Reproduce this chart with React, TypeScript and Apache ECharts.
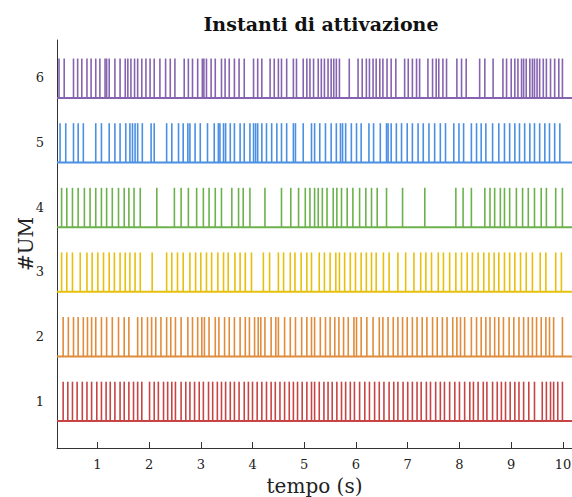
import React, { useEffect, useRef } from "react";
import * as echarts from "echarts";

const unitLabels = ["1", "2", "3", "4", "5", "6"];
const xTicks = [1, 2, 3, 4, 5, 6, 7, 8, 9, 10];
const colors = ["#c84444", "#e08c3a", "#e6c00c", "#6cb24c", "#4a8fe2", "#8663b0"];

const unit1 = [0.34, 0.43, 0.52, 0.61, 0.71, 0.80, 0.89, 0.99, 1.08, 1.17, 1.25, 1.34, 1.44, 1.52, 1.61, 1.70, 1.78, 1.86,
  2.01, 2.10, 2.18, 2.28, 2.36, 2.44, 2.51, 2.62, 2.71, 2.79, 2.88, 2.97, 3.05, 3.15, 3.23, 3.32, 3.40, 3.48, 3.57, 3.65,
  3.74, 3.84, 3.92, 4.00, 4.09, 4.18, 4.27, 4.36, 4.44, 4.53, 4.62, 4.71, 4.79, 4.87, 4.96, 5.05, 5.14,
  5.20, 5.29, 5.38, 5.46, 5.54, 5.63, 5.72, 5.80, 5.89, 5.97, 6.07, 6.17, 6.26, 6.36, 6.45, 6.54, 6.64, 6.73, 6.81, 6.91,
  7.00, 7.09, 7.18, 7.26, 7.36, 7.44, 7.54, 7.63, 7.71, 7.81, 7.91, 8.00, 8.10, 8.20, 8.27, 8.36, 8.46, 8.53, 8.64, 8.73,
  8.81, 8.89, 8.98, 9.07, 9.15, 9.24, 9.34, 9.45, 9.60, 9.68, 9.76, 9.82, 9.90, 9.99];

const unit2 = [0.34, 0.44, 0.54, 0.63, 0.73, 0.81, 0.89, 0.97, 1.08, 1.18, 1.29, 1.41, 1.52, 1.61, 1.78, 1.86, 1.97, 2.05,
  2.13, 2.23, 2.34, 2.42, 2.51, 2.62, 2.75, 2.84, 2.94, 3.02, 3.07, 3.16, 3.28, 3.35, 3.46, 3.55, 3.65, 3.76, 3.86, 3.94,
  4.04, 4.11, 4.16, 4.24, 4.36, 4.45, 4.50, 4.62, 4.73, 4.83, 4.95, 5.05, 5.14,
  5.20, 5.31, 5.41, 5.50, 5.59, 5.67, 5.76, 5.85, 5.96, 6.01, 6.10, 6.21, 6.33, 6.45, 6.52, 6.62, 6.72, 6.81, 6.90, 6.99,
  7.09, 7.18, 7.28, 7.37, 7.48, 7.57, 7.67, 7.76, 7.87, 7.95, 8.02, 8.10, 8.23, 8.33, 8.42, 8.51, 8.59, 8.68, 8.76, 8.85,
  8.96, 9.05, 9.15, 9.24, 9.33, 9.41, 9.49, 9.58, 9.67, 9.74, 9.82, 9.99];

const unit3 = [0.31, 0.41, 0.52, 0.67, 0.80, 0.90, 1.01, 1.12, 1.23, 1.33, 1.44, 1.54, 1.63, 1.73, 1.83, 2.06, 2.34, 2.44,
  2.55, 2.66, 2.79, 2.90, 3.00, 3.11, 3.21, 3.33, 3.44, 3.53, 3.66, 3.76, 3.86, 3.98, 4.21, 4.33, 4.50, 4.60, 4.73, 4.82,
  4.94, 5.05, 5.14,
  5.29, 5.39, 5.50, 5.61, 5.68, 5.78, 5.89, 5.99, 6.10, 6.20, 6.30, 6.39, 6.53, 6.64, 6.81, 6.96, 7.12, 7.25, 7.35, 7.46,
  7.59, 7.69, 7.81, 7.93, 8.04, 8.15, 8.25, 8.36, 8.47, 8.57, 8.67, 8.76, 8.87, 8.97, 9.07, 9.18, 9.29, 9.41, 9.56, 9.67,
  9.86, 9.97];

const unit4 = [0.31, 0.41, 0.52, 0.63, 0.75, 0.86, 0.97, 1.08, 1.18, 1.29, 1.41, 1.52, 1.61, 1.71, 1.83, 2.15, 2.49, 2.62,
  2.76, 2.92, 3.05, 3.16, 3.28, 3.40, 3.60, 3.73, 3.82, 3.95, 4.24, 4.56, 4.74, 4.89, 5.02, 5.11, 5.20,
  5.27, 5.35, 5.44, 5.56, 5.63, 5.72, 5.83, 5.94, 6.07, 6.19, 6.30, 6.41, 6.59, 6.90, 7.33, 7.93, 8.07, 8.23, 8.49, 8.59,
  8.68, 8.79, 8.87, 8.97, 9.10, 9.22, 9.33, 9.45, 9.58, 9.68, 9.86, 9.99];

const unit5 = [0.28, 0.39, 0.54, 0.63, 0.73, 0.97, 1.08, 1.23, 1.34, 1.44, 1.55, 1.63, 1.68, 1.73, 1.78, 1.87, 2.04, 2.10,
  2.34, 2.44, 2.57, 2.66, 2.75, 2.79, 2.89, 2.99, 3.13, 3.26, 3.34, 3.37, 3.44, 3.48, 3.57, 3.65, 3.76, 3.84, 3.95, 4.02,
  4.06, 4.10, 4.18, 4.27, 4.37, 4.47, 4.56, 4.66, 4.79, 4.83, 4.98, 5.14,
  5.20, 5.30, 5.41, 5.52, 5.62, 5.70, 5.74, 5.80, 5.91, 6.01, 6.10, 6.25, 6.34, 6.47, 6.59, 6.62, 6.68, 6.78, 6.88, 6.99,
  7.09, 7.20, 7.30, 7.41, 7.52, 7.63, 7.73, 7.89, 7.99, 8.08, 8.23, 8.33, 8.42, 8.51, 8.64, 8.76, 8.87, 8.97, 9.07, 9.16,
  9.26, 9.36, 9.45, 9.55, 9.65, 9.74, 9.84, 9.94];

const unit6 = [0.26, 0.36, 0.54, 0.62, 0.70, 0.80, 0.88, 0.97, 1.05, 1.15, 1.18, 1.23, 1.34, 1.44, 1.54, 1.59, 1.65, 1.72,
  1.78, 1.86, 1.94, 2.02, 2.10, 2.21, 2.32, 2.41, 2.50, 2.68, 2.76, 2.84, 2.94, 3.03, 3.06, 3.11, 3.20, 3.28, 3.40, 3.47,
  3.55, 3.65, 3.74, 3.84, 4.02, 4.10, 4.18, 4.34, 4.42, 4.50, 4.56, 4.66, 4.79, 4.85, 4.98, 5.05, 5.11, 5.18,
  5.27, 5.33, 5.39, 5.46, 5.52, 5.57, 5.62, 5.68, 5.87, 6.04, 6.12, 6.20, 6.26, 6.33, 6.39, 6.46, 6.52, 6.60, 6.68, 6.77,
  6.94, 7.01, 7.09, 7.17, 7.23, 7.39, 7.48, 7.55, 7.60, 7.68, 7.75, 7.95, 8.04, 8.13, 8.39, 8.49, 8.65, 8.84, 8.91, 9.00,
  9.07, 9.13, 9.20, 9.24, 9.29, 9.36, 9.41, 9.45, 9.50, 9.55, 9.62, 9.68, 9.76, 9.84, 9.92, 9.99];

const units = [unit1, unit2, unit3, unit4, unit5, unit6];

const X_MIN = 0.221;
const X_MAX = 10.175;
const BASE_OFF = 0.31;
const TOP_OFF = 0.3;

export default function App() {
  const ref = useRef<HTMLDivElement>(null);
  useEffect(() => {
    if (!ref.current) return;
    const chart = echarts.init(ref.current, null, { renderer: "svg" });
    const series: any[] = [];
    units.forEach((times, i) => {
      const row = i + 1;
      const color = colors[i];
      series.push({
        type: "custom",
        name: "UM" + row,
        data: times.map((t) => [t, row]),
        encode: { x: 0, y: 1 },
        renderItem: (params: any, api: any) => {
          const t = api.value(0);
          const r = api.value(1);
          const p0 = api.coord([t, r - BASE_OFF]);
          const p1 = api.coord([t, r + TOP_OFF]);
          return {
            type: "line",
            shape: { x1: p0[0], y1: p0[1], x2: p1[0], y2: p1[1] },
            style: { stroke: color, lineWidth: 1.6 },
          };
        },
        z: 2,
      });
      series.push({
        type: "line",
        data: [
          [X_MIN, row - BASE_OFF],
          [X_MAX, row - BASE_OFF],
        ],
        symbol: "none",
        lineStyle: { color, width: 2 },
        z: 3,
      });
    });
    chart.setOption({
      animation: false,
      backgroundColor: "#ffffff",
      title: {
        text: "Instanti di attivazione",
        left: 316,
        top: 9,
        textAlign: "center",
        textStyle: { fontFamily: "DejaVu Serif", fontWeight: "bold", fontSize: 19, color: "#111" },
      },
      grid: { left: 57, right: 0, top: 40, bottom: 49, outerBoundsMode: "none", containLabel: false },
      xAxis: {
        type: "value",
        min: X_MIN,
        max: X_MAX,
        name: "tempo (s)",
        nameLocation: "middle",
        nameGap: 28,
        nameMoveOverlap: false,
        nameTextStyle: { fontFamily: "DejaVu Serif", fontSize: 20, color: "#222" },
        axisLine: { show: true, lineStyle: { color: "#333", width: 1 } },
        axisTick: { show: true, inside: true, length: 6, customValues: xTicks, lineStyle: { color: "#333" } },
        axisLabel: {
          customValues: xTicks,
          fontFamily: "DejaVu Serif",
          fontSize: 13,
          color: "#222",
          margin: 10,
        },
        splitLine: { show: false },
      },
      yAxis: {
        type: "value",
        min: 0.274,
        max: 6.587,
        name: "#UM",
        nameLocation: "middle",
        nameGap: 21,
        nameMoveOverlap: false,
        nameTextStyle: { fontFamily: "DejaVu Serif", fontSize: 20, color: "#222" },
        axisLine: { show: true, lineStyle: { color: "#333", width: 1 } },
        axisTick: { show: false },
        axisLabel: {
          customValues: [1, 2, 3, 4, 5, 6],
          formatter: (v: number) => unitLabels[Math.round(v) - 1] ?? "",
          fontFamily: "DejaVu Serif",
          fontSize: 13,
          color: "#222",
          margin: 13,
        },
        splitLine: { show: false },
      },
      series,
    });
    return () => chart.dispose();
  }, []);
  return <div ref={ref} style={{ width: 572, height: 497, position: "absolute", left: 0, top: 0 }} />;
}
